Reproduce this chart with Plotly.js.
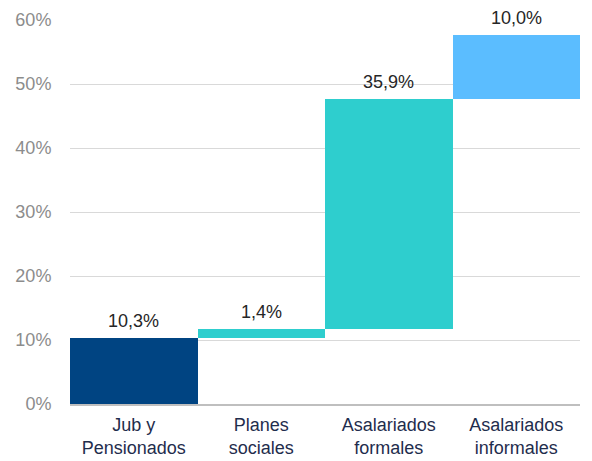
<!DOCTYPE html>
<html>
<head>
<meta charset="utf-8">
<script src="https://cdn.plot.ly/plotly-3.0.1.min.js"></script>
<style>html,body{margin:0;padding:0;background:#fff;}#chart{width:592px;height:461px;}</style>
</head>
<body>
<div id="chart"></div>
<script>
const categories = ["Jub y<br>Pensionados", "Planes<br>sociales", "Asalariados<br>formales", "Asalariados<br>informales"];
const values = [10.3, 1.4, 35.9, 10.0];
const colors = ["#004482", "#2ECECE", "#2ECECE", "#5BBDFF"];
const yTicks = [0, 10, 20, 30, 40, 50, 60];

const bases = [];
let acc = 0;
for (const v of values) { bases.push(acc); acc += v; }
const labels = values.map(v => v.toFixed(1).replace('.', ',') + '%');

const trace = {
  type: 'bar',
  x: categories,
  y: values,
  base: bases,
  marker: {color: colors, line: {width: 0}},
  hoverinfo: 'none'
};

const annotations = categories.map((c, i) => ({
  x: c, y: bases[i] + values[i],
  xref: 'x', yref: 'y',
  text: labels[i],
  showarrow: false,
  yanchor: 'bottom',
  yshift: 5,
  font: {family: 'Liberation Sans, Arial, sans-serif', size: 18, color: '#262626'}
}));

const layout = {
  width: 592, height: 461,
  margin: {l: 70, r: 12, t: 20, b: 57},
  paper_bgcolor: '#fff', plot_bgcolor: '#fff',
  showlegend: false,
  bargap: 0,
  font: {family: 'Liberation Sans, Arial, sans-serif', size: 18},
  annotations: annotations,
  xaxis: {
    showgrid: false, zeroline: false,
    showline: true, linecolor: '#bfbfbf', linewidth: 2,
    tickfont: {size: 18, color: '#1F2D4D'},
    ticks: 'outside', ticklen: 3, tickcolor: 'rgba(0,0,0,0)'
  },
  yaxis: {
    range: [0, 60],
    tickvals: yTicks,
    ticktext: yTicks.map(t => t + '%'),
    showgrid: true, gridcolor: '#d9d9d9', gridwidth: 1,
    zeroline: false, showline: false,
    tickfont: {size: 18, color: '#8c8c8c'},
    ticks: 'outside', ticklen: 14, tickcolor: 'rgba(0,0,0,0)'
  }
};

Plotly.newPlot('chart', [trace], layout, {displayModeBar: false, staticPlot: true});
</script>
</body>
</html>
